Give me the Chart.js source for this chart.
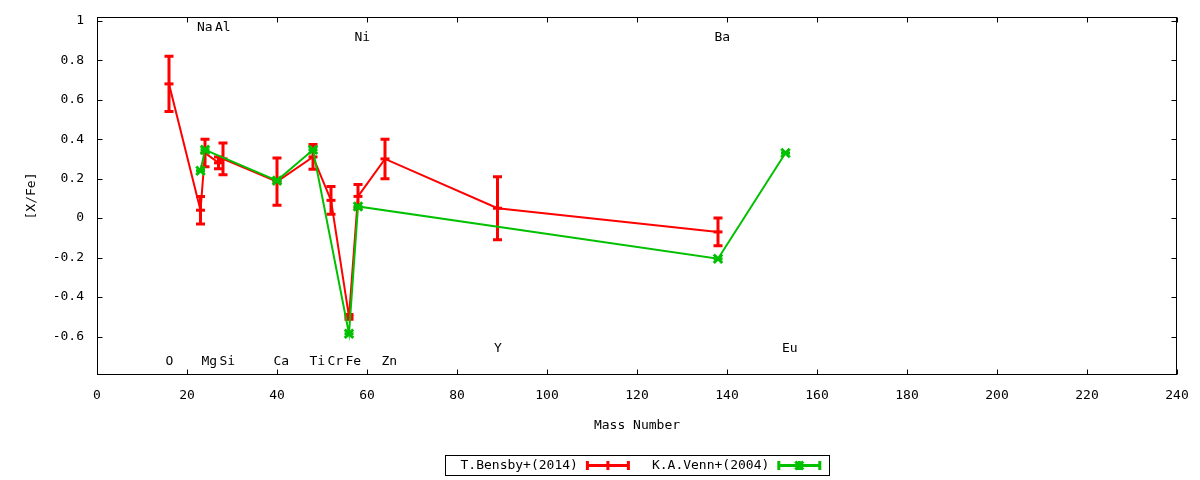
<!DOCTYPE html>
<html><head><meta charset="utf-8">
<script src="https://cdn.jsdelivr.net/npm/chart.js@4.4.1/dist/chart.umd.min.js"></script>
<style>html,body{margin:0;padding:0;background:#fff}canvas{display:block}</style>
</head><body>
<canvas id="c" width="1200" height="480"></canvas>
<script>
// ---- data ----
const bensbyLabel = 'T.Bensby+(2014)';
const bensbyMass  = [16, 23, 24, 27, 28, 40, 48, 52, 56, 58, 64, 89, 138];
const bensbyValue = [0.68, 0.04, 0.33, 0.28, 0.30, 0.185, 0.31, 0.09, -0.50, 0.11, 0.30, 0.05, -0.07];
const bensbyError = [0.14, 0.07, 0.07, 0.03, 0.08, 0.12, 0.063, 0.07, 0.012, 0.06, 0.10, 0.16, 0.07];

const vennLabel = 'K.A.Venn+(2004)';
const vennMass  = [23, 24, 40, 48, 56, 58, 138, 153];
const vennValue = [0.24, 0.346, 0.19, 0.346, -0.586, 0.059, -0.206, 0.33];
const vennError = [0, 0, 0, 0, 0, 0, 0, 0];

const elementNames = ['O', 'Na', 'Mg', 'Al', 'Si', 'Ca', 'Ti', 'Cr', 'Fe', 'Ni', 'Zn', 'Y', 'Ba', 'Eu'];
const elementMass  = [16, 23, 24, 27, 28, 40, 48, 52, 56, 58, 64, 89, 138, 153];
const elementRow   = ['bottom', 'top', 'bottom', 'top', 'bottom', 'bottom', 'bottom', 'bottom', 'bottom', 'upper', 'bottom', 'lower', 'upper', 'lower'];

const xTickValues = [0, 20, 40, 60, 80, 100, 120, 140, 160, 180, 200, 220, 240];
const yTickValues = [-0.6, -0.4, -0.2, 0, 0.2, 0.4, 0.6, 0.8, 1];
const yTickLabels = ['-0.6', '-0.4', '-0.2', '0', '0.2', '0.4', '0.6', '0.8', '1'];

const xTitle = 'Mass Number';
const yTitle = '[X/Fe]';

// ---- styling ----
const FONT = "'DejaVu Sans Mono', monospace";
const RED = '#ff0000';
const GREEN = '#00c000';

const toPoints = (xs, ys) => xs.map((x, i) => ({ x: x, y: ys[i] }));

const framePlugin = {
  id: 'frame',
  beforeDatasetsDraw(chart) {
    const { ctx, chartArea: a, scales: { x, y } } = chart;
    ctx.save();
    ctx.strokeStyle = '#000';
    ctx.lineWidth = 1;
    const L = Math.round(a.left) + 0.5, R = Math.round(a.right) - 0.5;
    const T = Math.round(a.top) + 0.5, B = Math.round(a.bottom) - 0.5;
    ctx.strokeRect(L, T, R - L, B - T);
    const tl = 5;
    ctx.beginPath();
    x.ticks.forEach(t => {
      const px = Math.round(x.getPixelForValue(t.value)) + 0.5;
      ctx.moveTo(px, B); ctx.lineTo(px, B - tl);
      ctx.moveTo(px, T); ctx.lineTo(px, T + tl);
    });
    y.ticks.forEach(t => {
      const py = Math.round(y.getPixelForValue(t.value)) + 0.5;
      ctx.moveTo(L, py); ctx.lineTo(L + tl, py);
      ctx.moveTo(R, py); ctx.lineTo(R - tl, py);
    });
    ctx.stroke();
    ctx.restore();
  }
};

const errorBarPlugin = {
  id: 'errorBars',
  afterDatasetDraw(chart, args) {
    const ds = chart.data.datasets[args.index];
    if (!ds.errors) return;
    const { ctx, scales: { y } } = chart;
    ctx.save();
    ctx.strokeStyle = ds.borderColor;
    ctx.lineWidth = 3;
    ctx.lineCap = 'butt';
    const cap = 4.5;
    args.meta.data.forEach((pt, i) => {
      const v = ds.data[i].y, e = ds.errors[i];
      const yt = y.getPixelForValue(v + e), yb = y.getPixelForValue(v - e);
      const px = pt.x;
      ctx.beginPath();
      if (e > 0) { ctx.moveTo(px, yt - 1.5); ctx.lineTo(px, yb + 1.5); }
      ctx.moveTo(px - cap, yt); ctx.lineTo(px + cap, yt);
      ctx.moveTo(px - cap, yb); ctx.lineTo(px + cap, yb);
      ctx.stroke();
    });
    ctx.restore();
  }
};

const elementLabelPlugin = {
  id: 'elementLabels',
  afterDraw(chart, args, opts) {
    const { ctx, scales: { x, y } } = chart;
    ctx.save();
    ctx.font = '13px ' + FONT;
    ctx.fillStyle = '#000';
    ctx.textAlign = 'left';
    ctx.textBaseline = 'middle';
    elementNames.forEach((name, i) => {
      const px = x.getPixelForValue(elementMass[i]) + opts.dx;
      const py = y.getPixelForValue(opts.rows[elementRow[i]]);
      ctx.fillText(name, px, py);
    });
    ctx.restore();
  }
};

const legendPlugin = {
  id: 'boxLegend',
  afterDraw(chart, args, opts) {
    const { ctx, chartArea: a } = chart;
    const order = [0, 1];
    ctx.save();
    ctx.font = '13px ' + FONT;
    const items = order.map(i => chart.data.datasets[i]);
    const widths = items.map(d => ctx.measureText(d.label).width);
    const padL = 15, padR = 8, gapTS = 8, sample = 44, gapItem = 22;
    let total = padL + padR;
    widths.forEach((w, i) => { total += w + gapTS + sample + (i > 0 ? gapItem : 0); });
    const cx = (a.left + a.right) / 2;
    const left = Math.round(cx - total / 2) + 0.5;
    const top = opts.top + 0.5, h = opts.height;
    ctx.strokeStyle = '#000';
    ctx.lineWidth = 1;
    ctx.strokeRect(left, top, Math.round(total), h);
    const cy = top + h / 2;
    let xx = left + padL;
    items.forEach((d, i) => {
      if (i > 0) xx += gapItem;
      ctx.fillStyle = '#000';
      ctx.textAlign = 'left';
      ctx.textBaseline = 'middle';
      ctx.fillText(d.label, xx, cy);
      xx += widths[i] + gapTS;
      const x0 = xx, x1 = xx + sample, xm = (x0 + x1) / 2;
      ctx.strokeStyle = d.borderColor;
      ctx.lineWidth = 3;
      ctx.beginPath();
      ctx.moveTo(x0, cy); ctx.lineTo(x1, cy);
      ctx.moveTo(x0 + 1.5, cy - 4.5); ctx.lineTo(x0 + 1.5, cy + 4.5);
      ctx.moveTo(x1 - 1.5, cy - 4.5); ctx.lineTo(x1 - 1.5, cy + 4.5);
      ctx.moveTo(xm, cy - 4.5); ctx.lineTo(xm, cy + 4.5);
      if (d.pointStyle === 'crossRot') {
        ctx.moveTo(xm - 4, cy - 4); ctx.lineTo(xm + 4, cy + 4);
        ctx.moveTo(xm - 4, cy + 4); ctx.lineTo(xm + 4, cy - 4);
      }
      ctx.stroke();
      xx += sample;
    });
    ctx.restore();
  }
};

Chart.defaults.font.family = FONT;
Chart.defaults.font.size = 13;
Chart.defaults.color = '#000';

const hiddenTicks = len => ({ display: true, drawOnChartArea: false, drawTicks: true, tickLength: len, tickColor: 'rgba(0,0,0,0)' });

new Chart(document.getElementById('c'), {
  type: 'line',
  data: {
    datasets: [
      {
        label: bensbyLabel,
        data: toPoints(bensbyMass, bensbyValue),
        errors: bensbyError,
        borderColor: RED,
        backgroundColor: RED,
        borderWidth: 2,
        pointStyle: 'line',
        pointRadius: 4.5,
        pointBorderWidth: 3,
        pointBorderColor: RED,
        tension: 0,
        fill: false,
        order: 2
      },
      {
        label: vennLabel,
        data: toPoints(vennMass, vennValue),
        errors: vennError,
        borderColor: GREEN,
        backgroundColor: GREEN,
        borderWidth: 2,
        pointStyle: 'crossRot',
        pointRadius: 6,
        pointBorderWidth: 3,
        pointBorderColor: GREEN,
        tension: 0,
        fill: false,
        order: 1
      }
    ]
  },
  options: {
    responsive: false,
    animation: false,
    devicePixelRatio: 1,
    layout: { padding: { left: 0, right: 23, top: 17, bottom: 0 } },
    plugins: {
      legend: { display: false },
      tooltip: { enabled: false },
      elementLabels: { dx: -3.5, rows: { top: 0.966, upper: 0.912, lower: -0.661, bottom: -0.727 } },
      boxLegend: { top: 455, height: 20 }
    },
    scales: {
      x: {
        type: 'linear',
        min: 0, max: 240,
        afterBuildTicks: s => { s.ticks = xTickValues.map(v => ({ value: v })); },
        afterFit: s => { s.height = 105; },
        grid: hiddenTicks(13),
        border: { display: false },
        ticks: { padding: 0, maxRotation: 0, autoSkip: false, font: { size: 13 } },
        title: { display: true, text: xTitle, font: { size: 13 }, padding: { top: 0, bottom: 47 } }
      },
      y: {
        type: 'linear',
        min: -0.795, max: 1.019,
        afterBuildTicks: s => { s.ticks = yTickValues.map(v => ({ value: v })); },
        afterFit: s => { s.width = 97; },
        grid: hiddenTicks(13),
        border: { display: false },
        ticks: { padding: 0, autoSkip: false, callback: (v, i) => yTickLabels[i], font: { size: 13 } },
        title: { display: true, text: yTitle, font: { size: 13 }, padding: { top: 24, bottom: 0 } }
      }
    }
  },
  plugins: [framePlugin, errorBarPlugin, elementLabelPlugin, legendPlugin]
});
</script>
</body></html>
